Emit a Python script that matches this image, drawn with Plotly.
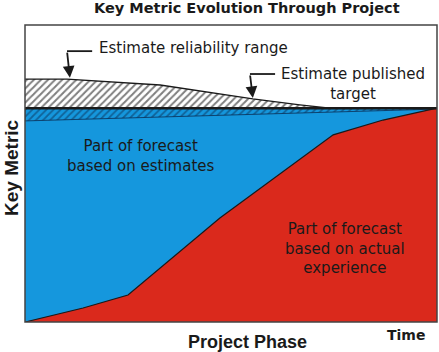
import plotly.graph_objects as go

# Data (x: project phase 0-100, y: key metric 0-100)
red_x = [0, 14.1, 25, 47.3, 74.8, 86.9, 100]
red_y = [0, 4.7, 9.1, 35, 63, 68, 72]

target_x = [0, 100]
target_y = [72, 72]

range_top_x = [0, 10.2, 32.8, 47.3, 55.3, 66.7, 74, 100]
range_top_y = [81.8, 81.8, 79.8, 76.8, 75.1, 73.1, 72.0, 72.0]

band_low_x = [0, 100]
band_low_y = [67.7, 71.7]

BLUE = "#1597DD"
RED = "#DA291C"
INK = "#1a1a1a"
FONT = "DejaVu Sans, Liberation Sans, Arial, sans-serif"

fig = go.Figure()

# Blue area: everything under the target line
fig.add_trace(go.Scatter(
    x=[0, 0, 100, 100, 0], y=[0, target_y[0], target_y[1], 0, 0],
    fill="toself", fillcolor=BLUE, line=dict(width=0), mode="lines",
    hoverinfo="skip", showlegend=False))

# Hatched band just below target line
bx = band_low_x + target_x[::-1] + [band_low_x[0]]
by = band_low_y + target_y[::-1] + [band_low_y[0]]
fig.add_trace(go.Scatter(
    x=bx, y=by, fill="toself", fillcolor=BLUE,
    fillpattern=dict(shape="/", fgcolor="#0b2f55", bgcolor=BLUE, size=5, solidity=0.35),
    line=dict(width=0.8, color="#0b2f55"), mode="lines",
    hoverinfo="skip", showlegend=False))

# Red area
fig.add_trace(go.Scatter(
    x=red_x + [100, 0], y=red_y + [0, 0],
    fill="toself", fillcolor=RED, line=dict(width=0), mode="lines",
    hoverinfo="skip", showlegend=False))
fig.add_trace(go.Scatter(
    x=red_x, y=red_y, mode="lines", line=dict(color=INK, width=1.2),
    hoverinfo="skip", showlegend=False))

# Reliability range (hatched, above target)
hx = range_top_x + target_x[::-1]
hy = range_top_y + target_y[::-1]
fig.add_trace(go.Scatter(
    x=hx, y=hy, fill="toself", fillcolor="white",
    fillpattern=dict(shape="/", fgcolor="#000000", bgcolor="white", size=5, solidity=0.4),
    line=dict(width=0), mode="lines",
    hoverinfo="skip", showlegend=False))
fig.add_trace(go.Scatter(
    x=range_top_x, y=range_top_y, mode="lines", line=dict(color=INK, width=1.3),
    hoverinfo="skip", showlegend=False))

# Target line
fig.add_trace(go.Scatter(
    x=target_x, y=target_y, mode="lines", line=dict(color=INK, width=2.5),
    hoverinfo="skip", showlegend=False))

shapes = [
    dict(type="rect", xref="paper", yref="paper", x0=0, y0=0, x1=1, y1=1,
         line=dict(color="#444", width=1.5)),
    dict(type="line", xref="x", yref="y", x0=10.2, y0=91.2, x1=16.3, y1=91.2,
         line=dict(color=INK, width=1.8)),
    dict(type="line", xref="x", yref="y", x0=54.6, y0=83.5, x1=60.7, y1=83.5,
         line=dict(color=INK, width=1.8)),
]

annotations = [
    dict(x=10.9, y=82.2, ax=10.2, ay=91.2, xref="x", yref="y", axref="x", ayref="y",
         text="", showarrow=True, arrowhead=2, arrowsize=1.3, arrowwidth=1.8, arrowcolor=INK),
    dict(x=55.3, y=75.4, ax=54.6, ay=83.5, xref="x", yref="y", axref="x", ayref="y",
         text="", showarrow=True, arrowhead=2, arrowsize=1.3, arrowwidth=1.8, arrowcolor=INK),
    dict(x=17.5, y=92.3, xref="x", yref="y", text="Estimate reliability range",
         showarrow=False, xanchor="left", yanchor="middle",
         font=dict(size=15, color=INK, family=FONT)),
    dict(x=79.6, y=80.3, xref="x", yref="y", text="Estimate published<br>target",
         showarrow=False, xanchor="center", yanchor="middle", align="center",
         font=dict(size=15, color=INK, family=FONT)),
    dict(x=28.2, y=55.9, xref="x", yref="y", text="Part of forecast<br>based on estimates",
         showarrow=False, xanchor="center", yanchor="middle", align="center",
         font=dict(size=15, color=INK, family=FONT)),
    dict(x=77.7, y=24.9, xref="x", yref="y", text="Part of forecast<br>based on actual<br>experience",
         showarrow=False, xanchor="center", yanchor="middle", align="center",
         font=dict(size=15, color=INK, family=FONT)),
    dict(x=0.539, y=1.057, xref="paper", yref="paper", text="<b>Key Metric Evolution Through Project</b>",
         showarrow=False, xanchor="center", yanchor="middle",
         font=dict(size=14.5, color=INK, family=FONT)),
    dict(x=-0.0316, y=0.522, xref="paper", yref="paper", text="<b>Key Metric</b>", textangle=-90,
         showarrow=False, xanchor="center", yanchor="middle",
         font=dict(size=19, color=INK, family="Liberation Sans, Arial, sans-serif")),
    dict(x=0.541, y=-0.067, xref="paper", yref="paper", text="<b>Project Phase</b>",
         showarrow=False, xanchor="center", yanchor="middle",
         font=dict(size=18, color=INK, family="Liberation Sans, Arial, sans-serif")),
    dict(x=0.925, y=-0.044, xref="paper", yref="paper", text="<b>Time</b>",
         showarrow=False, xanchor="center", yanchor="middle",
         font=dict(size=14, color=INK, family=FONT)),
]

fig.update_layout(
    width=439, height=352,
    margin=dict(l=25, r=2, t=25, b=30),
    paper_bgcolor="white", plot_bgcolor="white",
    xaxis=dict(range=[0, 100], visible=False, fixedrange=True),
    yaxis=dict(range=[0, 100], visible=False, fixedrange=True),
    shapes=shapes, annotations=annotations, showlegend=False,
)

fig.write_html("out.html")
